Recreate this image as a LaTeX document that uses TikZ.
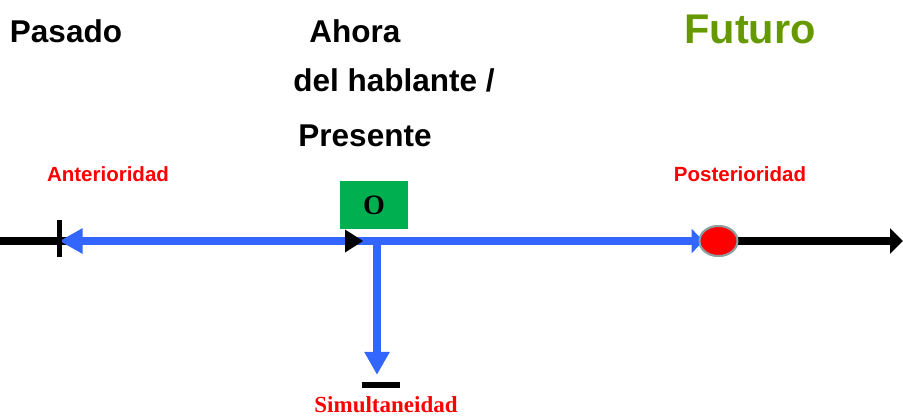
\documentclass[tikz,border=0pt]{standalone}
\usepackage{fontspec}
\setmainfont{Liberation Sans}
\newfontfamily\timesfont{Liberation Serif}
\usetikzlibrary{arrows.meta, shapes.geometric}

\definecolor{lineblue}{RGB}{51,102,255}
\definecolor{boxgreen}{RGB}{0,176,80}
\definecolor{futgreen}{RGB}{102,153,0}
\definecolor{rimgray}{RGB}{140,160,160}

\begin{document}
\begin{tikzpicture}[x=1pt, y=1pt,
		axis/.style={line width=8.5pt, black},
		blueline/.style={line width=8.5pt, lineblue},
		big/.style={font=\bfseries\fontsize{31.5}{36}\selectfont, anchor=base, inner sep=0pt},
		small/.style={font=\bfseries\fontsize{20.5}{24}\selectfont, anchor=base, inner sep=0pt, red},
		blockmark/.style={fill=black, inner sep=0pt, minimum width=#1}]
		
		\useasboundingbox (0,0) rectangle (903,-416);
		
		\coordinate                                                    (left end)   at (0,-241);
		\coordinate                                                    (right end)  at (903,-241);
		\coordinate                                                    (now)        at (377,-241);
		\node[blockmark=5pt, minimum height=37pt]                      (past mark)  at (59.5,-238) {};
		\node[blockmark=38pt, minimum height=6pt]                      (same mark)  at (381,-385) {};
		\node[draw=rimgray, line width=2pt, fill=red, ellipse,
		      minimum width=38pt, minimum height=30pt, inner sep=0pt]  (later dot)  at (718.5,-241) {};
		\node[fill=boxgreen, minimum width=68pt, minimum height=48pt,
		      inner sep=0pt, font=\timesfont\bfseries\fontsize{28}{30}\selectfont] (origin) at (374,-205) {O};
		
		\node[big]                                                     (pasado)     at (66,-42)   {Pasado};
		\node[big]                                                     (ahora)      at (355,-42)  {Ahora};
		\node[big]                                                     (hablante)   at (394,-91)  {del hablante /};
		\node[big]                                                     (presente)   at (365,-146) {Presente};
		\node[big, futgreen, font=\bfseries\fontsize{41.5}{46}\selectfont] (futuro) at (750,-43)  {Futuro};
		\node[small]                                                   (anterior)   at (108,-181) {Anterioridad};
		\node[small]                                                   (posterior)  at (740,-181) {Posterioridad};
		\node[anchor=base, inner sep=0pt, red,
		      font=\timesfont\bfseries\fontsize{23}{26}\selectfont]    (simult)     at (386,-412) {Simultaneidad};
		
		
		\draw[axis, -{Triangle[length=13pt, width=25pt]}] (left end) -- (right end);
		\draw[blueline, {Triangle[length=23pt, width=24pt]}-{Triangle[length=12pt, width=24pt]}]
			(left end -| past mark) -- ([xshift=5pt]later dot.west);
		\fill (345,-229.5) -- (363,-241) -- (345,-252.5) -- cycle;
		\draw[blueline, -{Triangle[length=23pt, width=24pt]}] (now) -- ([yshift=7pt]now |- same mark.north);
		
		% redraw marks on top of the lines
		\node[blockmark=5pt, minimum height=37pt]                      at (past mark) {};
		\node[draw=rimgray, line width=2pt, fill=red, ellipse,
		      minimum width=38pt, minimum height=30pt, inner sep=0pt]  at (later dot) {};
		
\end{tikzpicture}
\end{document}
